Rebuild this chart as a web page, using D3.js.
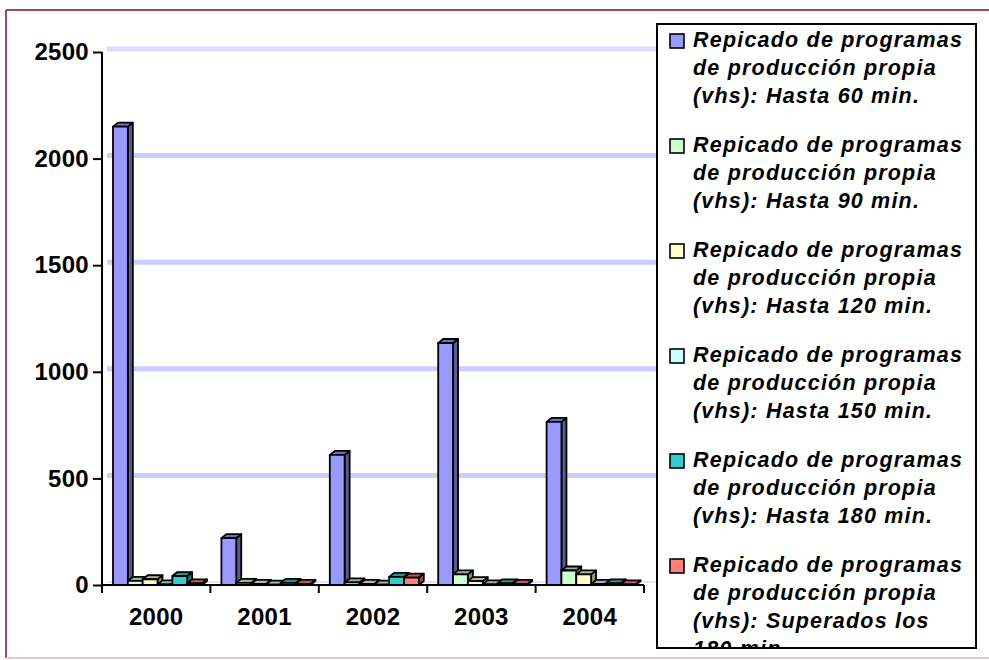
<!DOCTYPE html>
<html>
<head>
<meta charset="utf-8">
<script src="https://cdn.jsdelivr.net/npm/d3@7"></script>
<style>
  body { margin: 0; background: #fff; }
  svg { display: block; font-family: "Liberation Sans", Arial, sans-serif; }
</style>
</head>
<body>
<script>
// data
const years = ["2000", "2001", "2002", "2003", "2004"]
const seriesNames = [
  "Repicado de programas de producción propia (vhs): Hasta 60 min.",
  "Repicado de programas de producción propia (vhs): Hasta 90 min.",
  "Repicado de programas de producción propia (vhs): Hasta 120 min.",
  "Repicado de programas de producción propia (vhs): Hasta 150 min.",
  "Repicado de programas de producción propia (vhs): Hasta 180 min.",
  "Repicado de programas de producción propia (vhs): Superados los 180 min."
]
const hasta60 = [2150, 220, 610, 1135, 765]
const hasta90 = [19, 10, 12, 50, 68]
const hasta120 = [27, 5, 5, 18, 50]
const hasta150 = [3, 2, 2, 3, 5]
const hasta180 = [42, 10, 38, 8, 8]
const superados180 = [8, 5, 35, 5, 3]
const yTicks = [0, 500, 1000, 1500, 2000, 2500]

const seriesValues = [hasta60, hasta90, hasta120, hasta150, hasta180, superados180]
const colors = ["#9999ff", "#ccffcc", "#ffffcc", "#ccffff", "#33cccc", "#ff8080"]

const width = 989, height = 660
const svg = d3.select("body").append("svg")
  .attr("width", width)
  .attr("height", height)

// outer frame
svg.append("line").attr("x1", 6).attr("x2", 6).attr("y1", 10).attr("y2", 658)
  .attr("stroke", "#a8406e").attr("stroke-width", 2)
svg.append("line").attr("x1", 6).attr("x2", 989).attr("y1", 10).attr("y2", 10)
  .attr("stroke", "#a8406e").attr("stroke-width", 2)
svg.append("line").attr("x1", 6).attr("x2", 989).attr("y1", 658).attr("y2", 658)
  .attr("stroke", "#e6c4d4").attr("stroke-width", 2)

const x0 = d3.scaleBand().domain(years).range([102, 644])
const x1 = d3.scaleBand().domain(d3.range(seriesNames.length)).range([11, 100])
const y = d3.scaleLinear().domain([0, 2500]).range([585, 52])
const dx = 5, dy = -4

// gridlines on the back wall
svg.append("g").selectAll("line")
  .data(yTicks)
  .enter()
  .append("line")
    .attr("x1", 107)
    .attr("x2", 656)
    .attr("y1", d => y(d) - 3)
    .attr("y2", d => y(d) - 3)
    .attr("stroke", d => d == 0 ? "#e4e4ff" : (d == 2500 ? "#dcdcff" : "#ccccff"))
    .attr("stroke-width", d => d == 0 ? 2 : 5)

// bars
let bars = []
years.forEach((yr, i) => {
  seriesValues.forEach((vals, s) => {
    bars.push({ year: yr, s: s, value: vals[i] })
  })
})

let barG = svg.append("g").attr("class", "bars")
  .selectAll("g")
  .data(bars)
  .enter()
  .append("g")
    .attr("stroke", "#000")
    .attr("stroke-width", 1.8)
    .attr("stroke-linejoin", "round")

barG.each(function(d) {
  let g = d3.select(this)
  let bx = x0(d.year) + x1(d.s)
  let bw = x1.bandwidth()
  let top = y(d.value), base = y(0)
  let c = d3.color(colors[d.s])
  // side
  g.append("path")
    .attr("d", `M${bx + bw},${base}L${bx + bw + dx},${base + dy}L${bx + bw + dx},${top + dy}L${bx + bw},${top}Z`)
    .attr("fill", c.darker(1.5))
  // top
  g.append("path")
    .attr("d", `M${bx},${top}L${bx + dx},${top + dy}L${bx + bw + dx},${top + dy}L${bx + bw},${top}Z`)
    .attr("fill", c.darker(0.9))
  // front
  g.append("rect")
    .attr("x", bx)
    .attr("y", top)
    .attr("width", bw)
    .attr("height", base - top)
    .attr("fill", c)
})

// y axis
let yAxis = svg.append("g")
  .attr("transform", "translate(102,0)")
  .call(d3.axisLeft(y).tickValues(yTicks).tickFormat(d3.format("d"))
    .tickSize(9).tickPadding(4).tickSizeOuter(0))
yAxis.select(".domain").remove()
yAxis.selectAll("line").attr("stroke", "#000").attr("stroke-width", 2)
yAxis.selectAll("text")
  .attr("font-size", "24px")
  .attr("font-weight", "bold")
  .attr("letter-spacing", "0.3px")
  .attr("fill", "#000")
  .attr("font-family", "'Liberation Sans', Arial, sans-serif")
svg.append("line").attr("x1", 102).attr("x2", 102).attr("y1", y(2500)).attr("y2", 593)
  .attr("stroke", "#000").attr("stroke-width", 2)

// x axis
svg.append("line").attr("x1", 102).attr("x2", 644).attr("y1", y(0)).attr("y2", y(0))
  .attr("stroke", "#000").attr("stroke-width", 2)
let bounds = years.map(d => x0(d)).concat([x0(years[years.length - 1]) + x0.bandwidth()])
svg.append("g").selectAll("line")
  .data(bounds)
  .enter()
  .append("line")
    .attr("x1", d => d).attr("x2", d => d)
    .attr("y1", y(0)).attr("y2", 593)
    .attr("stroke", "#000").attr("stroke-width", 2)

svg.append("g").selectAll("text")
  .data(years)
  .enter()
  .append("text")
    .attr("x", d => x0(d) + x0.bandwidth() / 2)
    .attr("y", 625)
    .attr("text-anchor", "middle")
    .attr("font-size", "24px")
    .attr("font-weight", "bold")
    .attr("letter-spacing", "0.3px")
    .text(d => d)

// legend
let lx = 657, ly = 24, lw = 319, lh = 624
svg.append("clipPath").attr("id", "legclip")
  .append("rect").attr("x", lx).attr("y", ly).attr("width", lw).attr("height", lh)

svg.append("rect")
  .attr("x", lx).attr("y", ly).attr("width", lw).attr("height", lh)
  .attr("fill", "#fff")

let legend = svg.append("g").attr("clip-path", "url(#legclip)")

function wrapLines(text, maxW, sel) {
  let words = text.split(" ")
  let lines = []
  let cur = ""
  let probe = sel.append("text")
    .attr("font-size", "21.5px").attr("font-weight", "bold")
    .attr("font-style", "italic").attr("letter-spacing", "1.2px")
  words.forEach(w => {
    let test = cur ? cur + " " + w : w
    probe.text(test)
    if (probe.node().getComputedTextLength() > maxW && cur) {
      lines.push(cur)
      cur = w
    } else {
      cur = test
    }
  })
  if (cur) lines.push(cur)
  probe.remove()
  return lines
}

seriesNames.forEach((name, i) => {
  let base = 47 + i * 105
  legend.append("rect")
    .attr("x", 670).attr("y", base - 13)
    .attr("width", 14).attr("height", 14)
    .attr("fill", colors[i])
    .attr("stroke", "#000").attr("stroke-width", 1.6)
  let lines = wrapLines(name, 280, legend)
  let t = legend.append("text")
    .attr("x", 693)
    .attr("y", base)
    .attr("font-size", "21.5px")
    .attr("font-weight", "bold")
    .attr("font-style", "italic")
    .attr("letter-spacing", "1.2px")
    .attr("fill", "#000")
  lines.forEach((ln, k) => {
    t.append("tspan").attr("x", 693).attr("y", base + k * 28).text(ln)
  })
})

svg.append("rect")
  .attr("x", lx).attr("y", ly).attr("width", lw).attr("height", lh)
  .attr("fill", "none")
  .attr("stroke", "#000").attr("stroke-width", 2)
</script>
</body>
</html>
